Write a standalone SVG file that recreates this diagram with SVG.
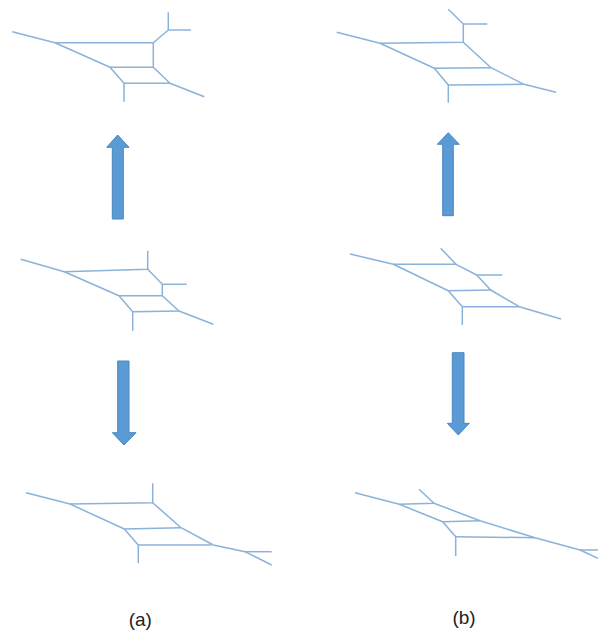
<svg xmlns="http://www.w3.org/2000/svg" width="598" height="632" viewBox="0 0 598 632">
<style>
.ln{fill:none;stroke:#8bb2d8;stroke-width:1.5;stroke-linejoin:round;stroke-linecap:butt}
.arr{fill:#5b9bd5;stroke:#4a86c0;stroke-width:1}
.lbl{font-family:"Liberation Sans",Arial,sans-serif;font-size:19px;fill:#222;text-anchor:middle}
</style>
<rect width="598" height="632" fill="#fff"/>
<g id="fig-a-top">
<polyline class="ln" points="12.3,31.7 55,42.7 110,67.3 124,83.3 124,101.7"/>
<polyline class="ln" points="55,42.7 153.3,42.7 153.3,67.3 110,67.3"/>
<polyline class="ln" points="153.3,42.7 168.3,30 168.3,12.3"/>
<line class="ln" x1="168.3" y1="30" x2="191" y2="30"/>
<polyline class="ln" points="153.3,67.3 170,83.3 204.3,96.7"/>
<line class="ln" x1="124" y1="83.3" x2="170" y2="83.3"/>
</g>
<g id="fig-b-top">
<polyline class="ln" points="336.7,32.3 380,43.3 434.3,68.3 448.3,85 448.3,102.7"/>
<polyline class="ln" points="380,43.3 463.3,42.3 463.3,24 448.3,9.3"/>
<line class="ln" x1="463.3" y1="24" x2="487.3" y2="24"/>
<polyline class="ln" points="463.3,42.3 491,67.7 524,84.3 556,92.3"/>
<line class="ln" x1="434.3" y1="68.3" x2="491" y2="67.7"/>
<line class="ln" x1="448.3" y1="85" x2="524" y2="84.3"/>
</g>
<g id="fig-a-mid">
<polyline class="ln" points="20.7,259.3 64.3,271.7 119,295.7 132.7,311.7 132.7,330.7"/>
<polyline class="ln" points="64.3,271.7 147.7,269.3 147.7,250.7"/>
<polyline class="ln" points="147.7,269.3 162.3,284.3 162.3,295.7 119,295.7"/>
<line class="ln" x1="162.3" y1="284.3" x2="186.7" y2="284.3"/>
<polyline class="ln" points="162.3,295.7 179,311 213.3,324.3"/>
<line class="ln" x1="132.7" y1="311.7" x2="179" y2="311"/>
</g>
<g id="fig-b-mid">
<polyline class="ln" points="350,254 393.3,264.3 448.3,290.7 462.3,306.7 462.3,325"/>
<polyline class="ln" points="393.3,264.3 456,264.3 440.7,248.3"/>
<polyline class="ln" points="456,264.3 476.7,275 490.7,290 519.3,306.7 561,319"/>
<line class="ln" x1="476.7" y1="275" x2="502.3" y2="275"/>
<line class="ln" x1="448.3" y1="290.7" x2="490.7" y2="290"/>
<line class="ln" x1="462.3" y1="306.7" x2="519.3" y2="306.7"/>
</g>
<g id="fig-a-bot">
<polyline class="ln" points="26,492.7 70,504 124.3,529 138.3,545 138.3,563.3"/>
<polyline class="ln" points="70,504 152.7,502.7 152.7,483.3"/>
<polyline class="ln" points="152.7,502.7 181,527.7 213.3,545 245,551.7 271.7,565"/>
<line class="ln" x1="245" y1="551.7" x2="271.7" y2="551.7"/>
<line class="ln" x1="124.3" y1="529" x2="181" y2="527.7"/>
<line class="ln" x1="138.3" y1="545" x2="211" y2="545"/>
</g>
<g id="fig-b-bot">
<polyline class="ln" points="355,492.7 399.3,504.3 442.7,521.7 455.7,536.7 455.7,556"/>
<polyline class="ln" points="399.3,504.3 434,503.3 419,489.3"/>
<polyline class="ln" points="434,503.3 480,520.7 535,537.7 580,550 598,558.3"/>
<line class="ln" x1="580" y1="550" x2="598" y2="550"/>
<line class="ln" x1="442.7" y1="521.7" x2="480" y2="520.7"/>
<line class="ln" x1="455.7" y1="536.7" x2="535" y2="537.7"/>
</g>
<g id="connectors">
<polygon class="arr" points="112.3,219 123.3,219 123.3,147.3 129,147.3 117.7,135 106.7,147.3 112.3,147.3"/>
<polygon class="arr" points="442.7,215.7 453.3,215.7 453.3,144.3 459.3,144.3 448.3,132.7 437.3,144.3 442.7,144.3"/>
<polygon class="arr" points="117.7,361 129,361 129,432.7 136,432.7 124,445 112.3,432.7 117.7,432.7"/>
<polygon class="arr" points="452.3,352.7 464,352.7 464,423.3 469.3,423.3 458.3,435 447.3,423.3 452.3,423.3"/>
</g>
<g id="labels">
<text class="lbl" x="140.3" y="626">(a)</text>
<text class="lbl" x="464" y="624">(b)</text>
</g>
</svg>
